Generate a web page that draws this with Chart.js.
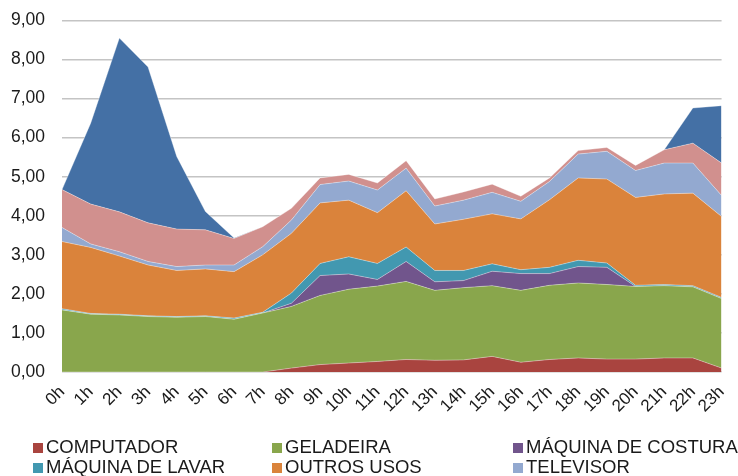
<!DOCTYPE html>
<html>
<head>
<meta charset="utf-8">
<script src="https://cdn.jsdelivr.net/npm/chart.js@4.4.1/dist/chart.umd.min.js"></script>
<style>
  html, body { margin: 0; padding: 0; background: #fff; }
  #wrap { position: relative; width: 738px; height: 476px; overflow: hidden; }
  #chart { position: absolute; left: 0; top: -7px; }
  #legend { position: absolute; left: 0; top: 437px; width: 738px; font-family: "Liberation Sans", Arial, sans-serif; font-size: 18.5px; color: #1a1a1a; }
  .item { position: absolute; white-space: nowrap; line-height: 20px; }
  .box { display: inline-block; width: 10px; height: 10px; margin-right: 3px; vertical-align: 0px; }
</style>
</head>
<body>
<div id="wrap">
  <canvas id="chart" width="738" height="483"></canvas>
  <div id="legend"></div>
</div>
<script>
// consumo por hora, areas empilhadas

const hours = ['0h','1h','2h','3h','4h','5h','6h','7h','8h','9h','10h','11h','12h','13h','14h','15h','16h','17h','18h','19h','20h','21h','22h','23h'];

const computador = [0, 0, 0, 0, 0, 0, 0, 0, 0.10, 0.19, 0.23, 0.27, 0.32, 0.30, 0.31, 0.40, 0.25, 0.32, 0.36, 0.33, 0.33, 0.36, 0.36, 0.10];
const geladeira = [1.59, 1.48, 1.46, 1.42, 1.40, 1.42, 1.35, 1.51, 1.58, 1.77, 1.89, 1.93, 2.00, 1.79, 1.85, 1.81, 1.84, 1.90, 1.92, 1.91, 1.86, 1.85, 1.82, 1.78];
const maqCostura = [0, 0, 0, 0, 0, 0, 0, 0, 0.08, 0.51, 0.39, 0.17, 0.51, 0.22, 0.18, 0.37, 0.43, 0.30, 0.42, 0.44, 0, 0, 0, 0];
const maqLavar = [0.03, 0.02, 0.02, 0.02, 0.02, 0.02, 0.03, 0.02, 0.26, 0.31, 0.44, 0.41, 0.37, 0.29, 0.26, 0.19, 0.10, 0.16, 0.16, 0.11, 0.03, 0.03, 0.03, 0.03];
const outrosUsos = [1.72, 1.69, 1.49, 1.30, 1.18, 1.20, 1.19, 1.47, 1.53, 1.55, 1.45, 1.30, 1.44, 1.19, 1.31, 1.28, 1.30, 1.73, 2.11, 2.15, 2.25, 2.32, 2.37, 2.07];
const televisor = [0.36, 0.09, 0.11, 0.09, 0.10, 0.10, 0.17, 0.21, 0.34, 0.47, 0.49, 0.58, 0.58, 0.46, 0.49, 0.55, 0.45, 0.47, 0.61, 0.71, 0.69, 0.79, 0.77, 0.54];
// the last two series have no visible legend entry in the picture
const serie7 = [0.97, 1.02, 1.02, 0.99, 0.96, 0.90, 0.68, 0.51, 0.30, 0.17, 0.17, 0.18, 0.19, 0.18, 0.21, 0.21, 0.13, 0.09, 0.09, 0.10, 0.13, 0.34, 0.51, 0.83];
const serie8 = [0, 2.07, 4.45, 3.99, 1.86, 0.47, 0.01, 0, 0, 0, 0, 0, 0, 0, 0, 0, 0, 0, 0, 0, 0, 0, 0.90, 1.47];

const yTicks = [0, 1, 2, 3, 4, 5, 6, 7, 8, 9];

const series = [
  { label: 'COMPUTADOR', data: computador, color: '#A9443F' },
  { label: 'GELADEIRA', data: geladeira, color: '#89A64C' },
  { label: 'MÁQUINA DE COSTURA', data: maqCostura, color: '#71558C' },
  { label: 'MÁQUINA DE LAVAR', data: maqLavar, color: '#4298B0' },
  { label: 'OUTROS USOS', data: outrosUsos, color: '#DA833B' },
  { label: 'TELEVISOR', data: televisor, color: '#93A9D0' },
  { label: 'SÉRIE 7', data: serie7, color: '#D1908E' },
  { label: 'SÉRIE 8', data: serie8, color: '#4470A5' }
];

const datasets = series.map((s, i) => ({
  label: s.label,
  data: s.data,
  backgroundColor: s.color,
  borderColor: 'rgba(255,255,255,0.35)',
  borderWidth: 1,
  pointRadius: 0,
  tension: 0,
  fill: i === 0 ? 'origin' : '-1'
}));

const config = {
  type: 'line',
  data: { labels: hours, datasets: datasets },
  options: {
    responsive: false,
    animation: false,
    layout: { padding: { top: 0, right: 3, left: 0, bottom: 0 } },
    plugins: {
      legend: { display: false },
      tooltip: { enabled: false }
    },
    scales: {
      x: {
        offset: false,
        grid: { display: false },
        border: { display: false },
        ticks: {
          autoSkip: false,
          minRotation: 45,
          maxRotation: 45,
          padding: 2,
          color: '#1a1a1a',
          font: { family: '"Liberation Sans", Arial, sans-serif', size: 17 }
        },
        afterFit: function(scale) { scale.height = 104; }
      },
      y: {
        stacked: true,
        min: 0,
        max: 9,
        afterBuildTicks: function(scale) { scale.ticks = yTicks.map(v => ({ value: v })); },
        grid: { color: '#C4C4C4', lineWidth: 1.5, drawTicks: false },
        border: { display: false },
        ticks: {
          padding: 17,
          color: '#1a1a1a',
          font: { family: '"Liberation Sans", Arial, sans-serif', size: 17.5 },
          callback: v => v.toFixed(2).replace('.', ',')
        },
        afterFit: function(scale) { scale.width = 62; }
      }
    }
  }
};

var myChart = new Chart(document.getElementById('chart'), config);

// legend, three columns, only the six visible entries
const legendEl = document.getElementById('legend');
const colX = [33, 272, 513];
series.slice(0, 6).forEach((s, i) => {
  const item = document.createElement('div');
  item.className = 'item';
  item.style.left = colX[i % 3] + 'px';
  item.style.top = (Math.floor(i / 3) * 20) + 'px';
  item.innerHTML = '<span class="box" style="background:' + s.color + '"></span>' + s.label;
  legendEl.appendChild(item);
});
</script>
</body>
</html>
